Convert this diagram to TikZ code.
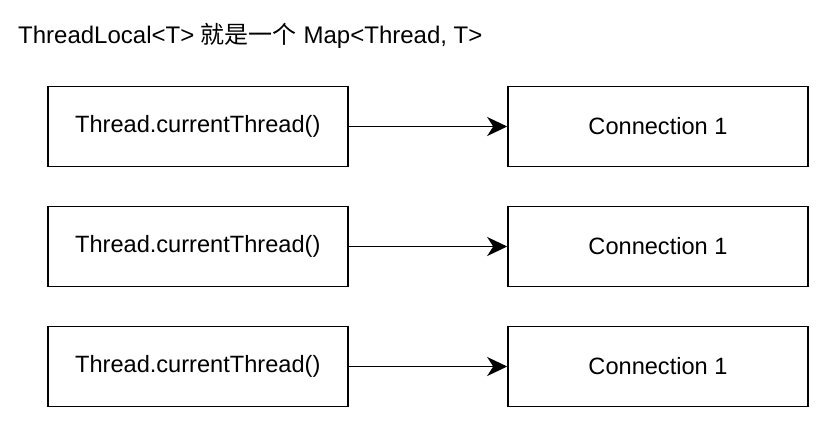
\documentclass[tikz,border=0pt]{standalone}
\usepackage{fontspec}
\setmainfont{Liberation Sans}
\newfontfamily\cjkfont{Noto Sans CJK SC}
\usepackage{tikz}
\usetikzlibrary{arrows.meta}

\begin{document}
\begin{tikzpicture}[x=1pt, y=-1pt,
        box/.style={draw, line width=1.6pt, minimum width=300pt, minimum height=80pt,
            inner sep=0pt, font=\fontsize{23.6}{28}\selectfont},
        link/.style={line width=1.6pt, -{Stealth[length=20pt, width=19pt, inset=6pt]}}]

            \useasboundingbox (0, 0) rectangle (825, 424);

            %title
            \node[anchor=base west, inner sep=0pt, font=\fontsize{24}{28}\selectfont] (title) at (18, 43)
                {ThreadLocal<T> {\cjkfont 就是一个} Map<Thread, T>};

            %threads
            \node[box] (thread1) at (197.75, 126.5) {Thread.currentThread()};
            \node[box] (thread2) at (197.75, 246.5) {Thread.currentThread()};
            \node[box] (thread3) at (197.75, 366.5) {Thread.currentThread()};

            %connections
            \node[box] (conn1) at (658, 126.5) {Connection 1};
            \node[box] (conn2) at (658, 246.5) {Connection 1};
            \node[box] (conn3) at (658, 366.5) {Connection 1};

            \draw[link] (thread1) -- (conn1);
            \draw[link] (thread2) -- (conn2);
            \draw[link] (thread3) -- (conn3);
        \end{tikzpicture}
\end{document}
